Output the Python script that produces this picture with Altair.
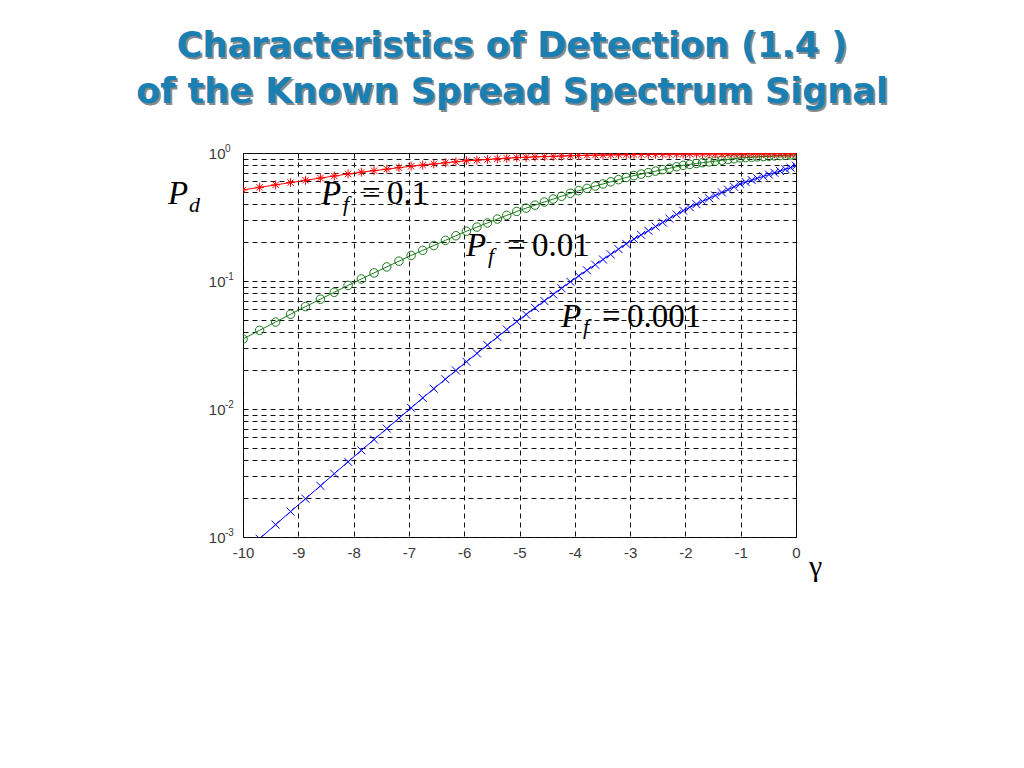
import altair as alt
import pandas as pd

# signal-to-noise ratio gamma (dB) at marker positions
gamma = [-10.00, -9.70, -9.41, -9.14, -8.87, -8.60, -8.35, -8.10, -7.86, -7.63,
         -7.40, -7.18, -6.96, -6.75, -6.55, -6.34, -6.15, -5.96, -5.77, -5.58,
         -5.40, -5.23, -5.05, -4.88, -4.72, -4.55, -4.39, -4.24, -4.08, -3.93,
         -3.78, -3.63, -3.49, -3.35, -3.21, -3.07, -2.93, -2.80, -2.67, -2.54,
         -2.41, -2.29, -2.16, -2.04, -1.92, -1.80, -1.69, -1.57, -1.46, -1.34,
         -1.23, -1.12, -1.01, -0.91, -0.80, -0.70, -0.59, -0.49, -0.39, -0.29,
         -0.19, -0.10, 0.00]

# detection probability Pd for Pf = 0.1 (red stars)
pd_pf_0_1 = [0.515, 0.539, 0.564, 0.587, 0.612, 0.637, 0.661, 0.686, 0.708, 0.728,
             0.748, 0.768, 0.788, 0.805, 0.821, 0.838, 0.854, 0.869, 0.879, 0.890,
             0.900, 0.910, 0.920, 0.926, 0.932, 0.937, 0.942, 0.947, 0.952, 0.956,
             0.959, 0.962, 0.964, 0.967, 0.969, 0.971, 0.973, 0.975, 0.976, 0.977,
             0.978, 0.979, 0.980, 0.981, 0.982, 0.983, 0.983, 0.984, 0.984, 0.985,
             0.985, 0.986, 0.986, 0.987, 0.987, 0.987, 0.987, 0.987, 0.988, 0.988,
             0.988, 0.988, 0.989]

# Pd for Pf = 0.01 (green circles)
pd_pf_0_01 = [0.0352, 0.0412, 0.0478, 0.0550, 0.0631, 0.0721, 0.0816, 0.0924, 0.1037, 0.1156,
              0.1288, 0.1429, 0.1583, 0.1736, 0.1895, 0.2077, 0.2257, 0.2448, 0.2638, 0.2841,
              0.3048, 0.3257, 0.3495, 0.3710, 0.3914, 0.4142, 0.4370, 0.4594, 0.4847, 0.5075,
              0.5290, 0.5514, 0.5731, 0.5957, 0.6191, 0.6436, 0.6658, 0.6839, 0.7025, 0.7217,
              0.7414, 0.7600, 0.7807, 0.8004, 0.8153, 0.8279, 0.8395, 0.8523, 0.8644, 0.8776,
              0.8899, 0.9025, 0.9151, 0.9210, 0.9268, 0.9322, 0.9380, 0.9434, 0.9489, 0.9543,
              0.9598, 0.9649, 0.9705]

# Pd for Pf = 0.001 (blue x)
pd_pf_0_001 = [0.00075, 0.00097, 0.00125, 0.00158, 0.00199, 0.00251, 0.00312, 0.00387, 0.00475, 0.00578,
               0.00703, 0.00848, 0.0102, 0.0122, 0.0144, 0.0171, 0.0200, 0.0234, 0.0272, 0.0316,
               0.0365, 0.0418, 0.0482, 0.0547, 0.0617, 0.0698, 0.0785, 0.0877, 0.0986, 0.1096,
               0.1213, 0.1340, 0.1472, 0.1614, 0.1774, 0.1950, 0.2126, 0.2291, 0.2469, 0.2661,
               0.2867, 0.3072, 0.3311, 0.3548, 0.3767, 0.3981, 0.4188, 0.4426, 0.4656, 0.4920,
               0.5176, 0.5445, 0.5728, 0.5924, 0.6138, 0.6339, 0.6567, 0.6782, 0.7004, 0.7234,
               0.7470, 0.7691, 0.7943]

x_ticks = [-10, -9, -8, -7, -6, -5, -4, -3, -2, -1, 0]
y_grid = [0.001, 0.002, 0.003, 0.004, 0.005, 0.006, 0.007, 0.008, 0.009,
          0.01, 0.02, 0.03, 0.04, 0.05, 0.06, 0.07, 0.08, 0.09,
          0.1, 0.2, 0.3, 0.4, 0.5, 0.6, 0.7, 0.8, 0.9, 1]
y_decades = [1, 0.1, 0.01, 0.001]
y_exponents = ["0", "-1", "-2", "-3"]

title_lines = ["Characteristics of Detection (1.4 )", "of the Known Spread Spectrum Signal"]

W, H = 553, 384

xs = alt.Scale(domain=[-10, 0], nice=False, zero=False)
ys = alt.Scale(type="log", domain=[0.001, 1], nice=False)

x_axis = alt.Axis(values=x_ticks, grid=True, gridDash=[5, 4], gridColor="#111", gridWidth=1,
                  gridOpacity=1, ticks=False, domain=False, labelFont="Liberation Sans",
                  labelFontSize=15, labelColor="#3a3a3a", labelPadding=8, title=None,
                  labelFlush=False, labelExpr="'' + datum.value")
y_axis = alt.Axis(values=y_grid, grid=True, gridDash=[5, 4], gridColor="#111", gridWidth=1,
                  gridOpacity=1, ticks=False, domain=False, labelFont="Liberation Sans",
                  labelFontSize=15, labelColor="#3a3a3a", labelPadding=18, title=None,
                  labelOverlap=False, labelFlush=False,
                  labelExpr="(datum.value == 1 || datum.value == 0.1 || datum.value == 0.01 "
                            "|| datum.value == 0.001) ? '10' : ''")

base = alt.Chart(pd.DataFrame({"gamma": [-10, 0], "pd": [0.001, 1]})).mark_point(opacity=0).encode(
    x=alt.X("gamma:Q", scale=xs, axis=x_axis),
    y=alt.Y("pd:Q", scale=ys, axis=y_axis),
)

# exponents of the y tick labels, placed by the y scale
exp_df = pd.DataFrame({"pd": y_decades, "e": y_exponents})
exponents = alt.Chart(exp_df).mark_text(
    font="Liberation Sans", fontSize=10, color="#3a3a3a", align="left",
    baseline="alphabetic", dy=-1).encode(
    x=alt.value(-18), y=alt.Y("pd:Q", scale=ys), text="e:N")

STAR = "M-1,0L1,0M0,-1L0,1M-0.7,-0.7L0.7,0.7M-0.7,0.7L0.7,-0.7"
XMARK = "M-1,-1L1,1M-1,1L1,-1"

def series(values, color, shape, size):
    df = pd.DataFrame({"gamma": gamma, "pd": values})
    enc = dict(x=alt.X("gamma:Q", scale=xs), y=alt.Y("pd:Q", scale=ys))
    line = alt.Chart(df).mark_line(color=color, strokeWidth=1, clip=True).encode(**enc)
    pts = alt.Chart(df).mark_point(shape=shape, size=size, filled=False, color=color,
                                   strokeWidth=1, opacity=1, clip=True).encode(**enc)
    return [line, pts]

layers = [base, exponents]
layers += series(pd_pf_0_001, "#0000ff", XMARK, 64)
layers += series(pd_pf_0_01, "#1a7a1a", "circle", 72)
layers += series(pd_pf_0_1, "#ff0000", STAR, 81)

OX, OY = 243, 153  # page position of the plot-area origin

def txt(text, px, py, size, font="Liberation Serif", style="normal", weight="normal",
        color="black", align="left"):
    return alt.Chart(pd.DataFrame({"t": [text]})).mark_text(
        font=font, fontSize=size, fontStyle=style, fontWeight=weight, color=color,
        align=align, baseline="alphabetic").encode(
        text="t:N", x=alt.value(px - OX), y=alt.value(py - OY))

# title with shadow
for line, by in zip(title_lines, [57, 103]):
    layers.append(txt(line, 514, by + 2, 35, font="DejaVu Sans", weight="bold",
                      color="#8a8a8a", align="center"))
    layers.append(txt(line, 512, by, 35, font="DejaVu Sans", weight="bold",
                      color="#1a80b4", align="center"))

# axis labels
layers.append(txt("P", 168, 204, 33, style="italic"))
layers.append(txt("d", 189, 212, 22, style="italic"))
layers.append(txt("γ", 809, 576, 30))

# curve annotations
for (px, by, val) in [(321, 204, "0.1"), (466, 256, "0.01"), (561, 327, "0.001")]:
    layers.append(txt("P", px, by, 33, style="italic"))
    layers.append(txt("f", px + 22, by + 7, 22, style="italic"))
    layers.append(txt("=", px + 41, by, 33))
    layers.append(txt(val, px + 66, by, 33))

chart = alt.layer(*layers).properties(
    width=W, height=H,
    autosize=alt.AutoSizeParams(type="none"),
    padding={"left": OX - 8, "top": OY - 8, "right": 200, "bottom": 200},
    background="white",
).configure_view(stroke="#000", strokeWidth=1)

chart.save("out.html", embed_options={"renderer": "svg", "actions": False})
